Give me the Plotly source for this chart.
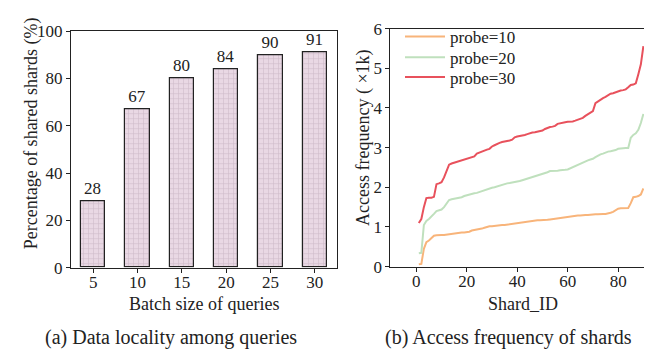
import plotly.graph_objects as go

# ---- data ----
batch_sizes = [5, 10, 15, 20, 25, 30]
shared_pct = [28, 67, 80, 84, 90, 91]

shard_ids = list(range(1, 91))
probe10 = [0.06, 0.07, 0.45, 0.62, 0.66, 0.73, 0.78, 0.79, 0.80, 0.80,
           0.80, 0.81, 0.82, 0.83, 0.84, 0.85, 0.85, 0.86, 0.86, 0.87,
           0.88, 0.91, 0.92, 0.93, 0.95, 0.96, 0.98, 1.01, 1.02, 1.02,
           1.03, 1.04, 1.04, 1.05, 1.05, 1.06, 1.07, 1.08, 1.08, 1.09,
           1.10, 1.11, 1.13, 1.14, 1.15, 1.16, 1.16, 1.17, 1.17, 1.17,
           1.18, 1.18, 1.19, 1.20, 1.21, 1.22, 1.23, 1.24, 1.25, 1.25,
           1.26, 1.27, 1.28, 1.29, 1.29, 1.30, 1.30, 1.30, 1.31, 1.31,
           1.32, 1.32, 1.33, 1.33, 1.33, 1.34, 1.36, 1.38, 1.42, 1.46,
           1.47, 1.47, 1.47, 1.48, 1.60, 1.75, 1.76, 1.78, 1.82, 1.97]
probe20 = [0.34, 0.35, 1.05, 1.15, 1.20, 1.28, 1.33, 1.40, 1.43, 1.44,
           1.50, 1.60, 1.68, 1.70, 1.71, 1.72, 1.73, 1.75, 1.78, 1.80,
           1.82, 1.84, 1.85, 1.86, 1.88, 1.91, 1.94, 1.95, 1.97, 1.99,
           2.00, 2.02, 2.04, 2.07, 2.09, 2.10, 2.11, 2.12, 2.13, 2.14,
           2.16, 2.18, 2.20, 2.22, 2.23, 2.25, 2.28, 2.30, 2.32, 2.33,
           2.35, 2.38, 2.41, 2.41, 2.42, 2.42, 2.43, 2.43, 2.44, 2.45,
           2.48, 2.52, 2.55, 2.57, 2.60, 2.62, 2.65, 2.68, 2.70, 2.72,
           2.76, 2.80, 2.83, 2.85, 2.88, 2.90, 2.91, 2.92, 2.94, 2.97,
           2.98, 2.98, 2.99, 2.99, 3.25, 3.32, 3.36, 3.45, 3.62, 3.85]
probe30 = [1.10, 1.20, 1.50, 1.73, 1.74, 1.74, 1.76, 2.08, 2.10, 2.13,
           2.25, 2.40, 2.57, 2.60, 2.62, 2.64, 2.66, 2.68, 2.70, 2.72,
           2.74, 2.76, 2.78, 2.85, 2.88, 2.90, 2.93, 2.95, 2.97, 3.03,
           3.06, 3.10, 3.12, 3.14, 3.15, 3.16, 3.18, 3.20, 3.26, 3.28,
           3.29, 3.30, 3.32, 3.34, 3.37, 3.38, 3.39, 3.40, 3.41, 3.43,
           3.47, 3.50, 3.52, 3.53, 3.55, 3.60, 3.62, 3.63, 3.64, 3.65,
           3.65, 3.66, 3.68, 3.70, 3.73, 3.75, 3.80, 3.84, 3.87, 3.92,
           4.12, 4.17, 4.22, 4.25, 4.28, 4.32, 4.36, 4.37, 4.40, 4.43,
           4.44, 4.45, 4.47, 4.52, 4.58, 4.59, 4.62, 4.85, 5.10, 5.56]

series_names = ["probe=10", "probe=20", "probe=30"]
series_colors = ["#f8b47a", "#bfe0bd", "#e8515c"]
legend_ids = ["legend", "legend2", "legend3"]
legend_rows = [21, 43, 64]

FONT = "Liberation Serif"
W, H = 652, 350

fig = go.Figure()

fig.add_trace(go.Bar(
    x=batch_sizes, y=shared_pct, width=2.75,
    text=[str(v) for v in shared_pct], textposition="outside",
    textfont=dict(family=FONT, size=17, color="#222"),
    cliponaxis=False,
    marker=dict(color="#e9d8e4",
                line=dict(color="#222", width=1.2),
                pattern=dict(shape="+", size=5, solidity=0.25,
                             fgcolor="#b9a3b4", fillmode="overlay")),
    xaxis="x", yaxis="y", showlegend=False))

for name, vals, col, lid in zip(series_names, [probe10, probe20, probe30],
                                series_colors, legend_ids):
    fig.add_trace(go.Scatter(
        x=shard_ids, y=vals, mode="lines", name=name, legend=lid,
        line=dict(color=col, width=2), xaxis="x2", yaxis="y2"))

axis_common = dict(showline=True, linecolor="#222", linewidth=1, mirror=True,
                   ticks="outside", ticklen=4, tickcolor="#222", showgrid=False,
                   zeroline=False, tickfont=dict(family=FONT, size=17, color="#222"))

legend_style = dict(xanchor="left", yanchor="middle", bgcolor="rgba(0,0,0,0)",
                    font=dict(family=FONT, size=17, color="#222"), itemwidth=40)

layout_legends = {}
for lid, row in zip(legend_ids, legend_rows):
    layout_legends[lid] = dict(x=392 / W, y=1 - row / H, **legend_style)

fig.update_layout(
    width=W, height=H, margin=dict(l=0, r=0, t=0, b=0),
    paper_bgcolor="white", plot_bgcolor="white",
    font=dict(family=FONT, color="#222"),
    xaxis=dict(domain=[63 / W, 329 / W], range=[2.5, 32.5], ticklabelstandoff=-5,
               tickvals=batch_sizes, anchor="y", **axis_common),
    yaxis=dict(domain=[1 - 265 / H, 1 - 15 / H], range=[0, 100],
               tickvals=[0, 20, 40, 60, 80, 100], anchor="x", **axis_common),
    xaxis2=dict(domain=[382.3 / W, 648 / W], range=[-10.3, 95], ticklabelstandoff=-5,
                tickvals=[0, 20, 40, 60, 80], anchor="y2", **axis_common),
    yaxis2=dict(domain=[1 - 264 / H, 1 - 12.3 / H], range=[0, 6],
                tickvals=[0, 1, 2, 3, 4, 5, 6], anchor="x2", **axis_common),
    bargap=0,
    **layout_legends,
)

ann = [
    dict(text="Percentage of shared shards (%)", x=23, y=123, textangle=-90, size=18),
    dict(text="Batch size of queries", x=196, y=304, textangle=0, size=18),
    dict(text="(a) Data locality among queries", x=163, y=339, textangle=0, size=20),
    dict(text="Access frequency ( ×1k)", x=355, y=128, textangle=-90, size=18),
    dict(text="Shard_ID", x=515, y=304, textangle=0, size=18),
    dict(text="(b) Access frequency of shards", x=500, y=339, textangle=0, size=20),
]
for a in ann:
    fig.add_annotation(text=a["text"], x=a["x"] / W, y=1 - a["y"] / H,
                       xref="paper", yref="paper",
                       xanchor="center", yanchor="middle", showarrow=False,
                       textangle=a["textangle"],
                       font=dict(family=FONT, size=a["size"], color="#222"))

fig.write_html("out.html")
